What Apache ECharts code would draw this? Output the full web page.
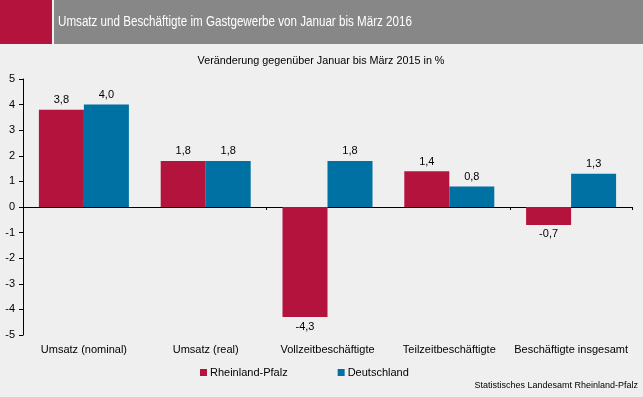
<!DOCTYPE html>
<html><head><meta charset="utf-8">
<script src="https://cdn.jsdelivr.net/npm/echarts@6/dist/echarts.min.js"></script>
<style>html,body{margin:0;padding:0;background:#eeefee;}#c{width:643px;height:397px;}</style>
</head><body><div id="c"></div>
<script>
var categories = ['Umsatz (nominal)', 'Umsatz (real)', 'Vollzeitbeschäftigte', 'Teilzeitbeschäftigte', 'Beschäftigte insgesamt'];
var rlp = [3.8, 1.8, -4.3, 1.4, -0.7];
var de = [4.0, 1.8, 1.8, 0.8, 1.3];
var seriesNames = ['Rheinland-Pfalz', 'Deutschland'];
var yTicks = [-5, -4, -3, -2, -1, 0, 1, 2, 3, 4, 5];

var FONT = '"Liberation Sans", Arial, sans-serif';
var chart = echarts.init(document.getElementById('c'), null, {renderer: 'canvas'});
function fmt(v){ return v.toFixed(1).replace('.', ','); }
function lbl(p){ return fmt(p.value); }
function mk(name, data, color){
  return {
    name: name, type: 'bar', data: data.map(function(v){
      return {value: v, label: {position: v < 0 ? 'bottom' : 'top'}};
    }),
    xAxisIndex: 0, barWidth: 45, barGap: '0%',
    itemStyle: {color: color},
    label: {show: true, formatter: lbl, color: '#000', fontSize: 11, fontFamily: FONT, distance: 4},
    emphasis: {disabled: true}
  };
}
chart.setOption({
  animation: false,
  backgroundColor: '#eeefee',
  textStyle: {fontFamily: FONT},
  graphic: [
    {type: 'rect', shape: {x: 0, y: 0, width: 52, height: 44}, style: {fill: '#b4133e'}},
    {type: 'rect', shape: {x: 54, y: 0, width: 589, height: 44}, style: {fill: '#878787'}},
    {type: 'text', x: 58, y: 22, scaleX: 0.83, style: {text: 'Umsatz und Beschäftigte im Gastgewerbe von Januar bis März 2016', fill: '#fff', font: '14px ' + FONT, textVerticalAlign: 'middle'}},
    {type: 'text', x: 321, y: 61, scaleX: 0.98, style: {text: 'Veränderung gegenüber Januar bis März 2015 in %', fill: '#000', font: '11px ' + FONT, textAlign: 'center', textVerticalAlign: 'middle'}},
    {type: 'text', x: 638, y: 386, style: {text: 'Statistisches Landesamt Rheinland-Pfalz', fill: '#000', font: '9px ' + FONT, textAlign: 'right', textVerticalAlign: 'middle'}}
  ],
  legend: {
    data: seriesNames, left: 200, top: 367, itemWidth: 7, itemHeight: 7, itemGap: 50, padding: 0,
    icon: 'rect', textStyle: {fontSize: 11, color: '#000', fontFamily: FONT, padding: [0, 0, 0, -2]}
  },
  grid: {left: 23, right: 11, top: 79, bottom: 62, containLabel: false},
  xAxis: [
    {type: 'category', data: categories, position: 'bottom',
     axisLine: {show: false, onZero: false}, axisTick: {show: false},
     axisLabel: {color: '#000', fontSize: 11, fontFamily: FONT, margin: 9, interval: 0}},
    {type: 'category', data: categories, position: 'bottom',
     axisLine: {show: true, onZero: true, lineStyle: {color: '#000', width: 1}},
     axisTick: {show: true, length: 3, lineStyle: {color: '#000'}}, axisLabel: {show: false}}
  ],
  yAxis: {
    type: 'value', min: yTicks[0], max: yTicks[yTicks.length - 1], interval: 1,
    axisLine: {show: true, lineStyle: {color: '#000'}},
    axisTick: {show: true, length: 4, lineStyle: {color: '#000'}},
    splitLine: {show: false},
    axisLabel: {color: '#000', fontSize: 11, fontFamily: FONT, margin: 8, formatter: function(v){ return String(v); }}
  },
  series: [mk(seriesNames[0], rlp, '#b4133e'), mk(seriesNames[1], de, '#0071a3')]
});
</script></body></html>
